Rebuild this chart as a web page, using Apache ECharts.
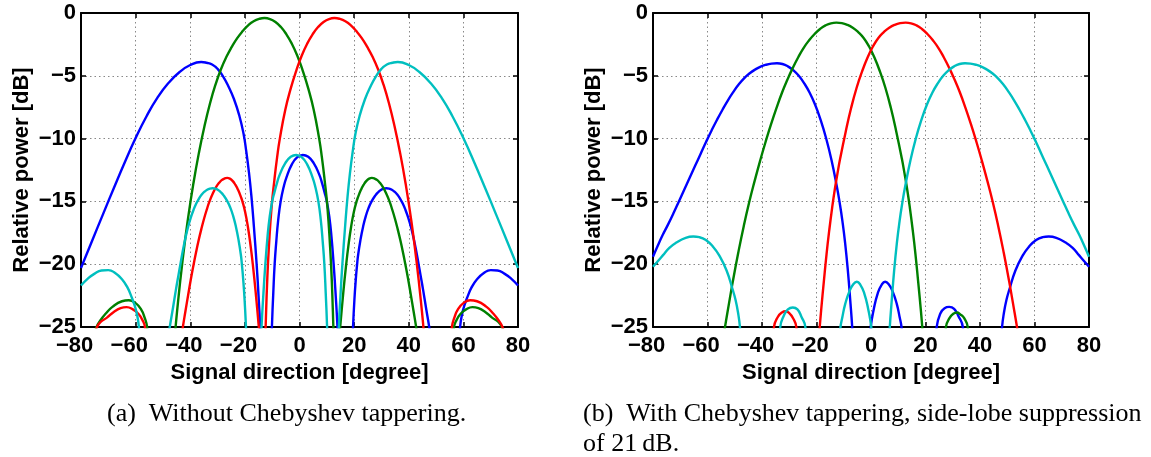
<!DOCTYPE html>
<html>
<head>
<meta charset="utf-8">
<script src="https://cdn.jsdelivr.net/npm/echarts@6/dist/echarts.min.js"></script>
<style>
  html, body { margin: 0; padding: 0; background: #fff; }
  #chart { width: 1151px; height: 457px; }
</style>
</head>
<body>
<div id="chart"></div>
<script>
// Beam patterns of a four-beam antenna array: relative power [dB] versus signal direction [degree].
// Every beam is stored as a list of lobes; each lobe is a list of [direction, power] points.
// The lobes of one beam are separated at the nulls, where the curve drops out of the plotted range.

const xTicks = [-80, -60, -40, -20, 0, 20, 40, 60, 80];
const yTicks = [-25, -20, -15, -10, -5, 0];

const beamNames = ['Beam 1', 'Beam 2', 'Beam 3', 'Beam 4'];
const beamColors = ['#0000ff', '#008000', '#ff0000', '#00bfbf'];

// ---- (a) without Chebyshev tapering ----
const aBlue = [
  [[-80,-20.3],[-76,-18.17],[-72,-16.05],[-68,-13.95],[-64,-11.9],[-60,-9.96],[-56,-8.22],[-52,-6.74],
   [-48,-5.58],[-44,-4.72],[-40,-4.14],[-36,-3.9],[-34,-3.96],[-32,-4.1],[-30,-4.45],[-28,-5.05],
   [-26,-5.85],[-24,-6.85],[-22,-8.2],[-20.5,-9.6],[-19.5,-11.0],[-18.5,-12.7],[-17.6,-14.6],
   [-16.7,-17.0],[-15.7,-20],[-15,-22.5],[-14.4,-25],[-13.8,-28]],
  [[-10.5,-28],[-10.1,-25],[-9.6,-22.3],[-9.1,-20],[-8.5,-18.2],[-7.8,-16.5],[-6.9,-15.0],[-5.8,-13.85],
   [-4.8,-13.1],[-2.8,-12.05],[-0.8,-11.48],[1.2,-11.3],[3.2,-11.45],[5.2,-11.95],[7.2,-12.85],
   [8.2,-13.5],[9.2,-14.3],[10,-15],[10.9,-16.2],[11.7,-17.8],[12.5,-20],[13.2,-22.3],[13.9,-25],[14.4,-28]],
  [[19.2,-27.25],[19.6,-25.0],[20.1,-22.85],[20.6,-21.25],[21.1,-20.0],[21.4,-19.37],[22.3,-18.09],
   [23.3,-16.99],[24.3,-16.15],[25.3,-15.52],[26.4,-15.0],[27.8,-14.52],[28.8,-14.27],[29.8,-14.09],
   [30.8,-13.985],[31.8,-13.95],[32.8,-13.98],[33.8,-14.07],[34.8,-14.23],[35.8,-14.46],[36.8,-14.77],
   [37.8,-15.17],[38.8,-15.68],[39.8,-16.29],[40.8,-17.04],[41.8,-17.95],[42.8,-19.02],[43.6,-20.0],
   [44.3,-20.85],[45.3,-22.1],[46.3,-23.45],[47.5,-25.0],[48.5,-26.45],[49.5,-28.2]],
  [[58,-27.5],[58.8,-25],[59.6,-23.9],[60.5,-23.2],[61.5,-22.6],[63,-21.85],[65,-21.2],[67.5,-20.7],
   [70,-20.47],[72.5,-20.5],[75,-20.75],[77.5,-21.15],[80,-21.7]]
];

const aGreen = [
  [[-76.5,-28],[-75.3,-25.8],[-74.3,-25],[-73,-24.5],[-71,-23.95],[-68.5,-23.4],[-65,-22.95],
   [-62.5,-22.87],[-60,-23.1],[-58,-23.6],[-56.8,-24.2],[-55.8,-25],[-55,-27.5]],
  [[-46.8,-28.6],[-45.8,-26.1],[-44.8,-23.69],[-42.8,-19.67],[-40.8,-16.33],[-38.8,-13.51],[-36.8,-11.1],
   [-34.8,-9.02],[-32.8,-7.23],[-30.8,-5.73],[-28.8,-4.5],[-26.8,-3.51],[-24.8,-2.7],[-22.8,-2.0],
   [-20.8,-1.44],[-18.8,-0.98],[-16.8,-0.66],[-14.8,-0.47],[-12.8,-0.4],[-10.8,-0.48],[-8.8,-0.72],
   [-6.8,-1.12],[-4.8,-1.7],[-2.8,-2.45],[-0.8,-3.4],[1.2,-4.6],[3.2,-6.0],[5.2,-7.7],[7.2,-10.0],
   [8.2,-11.5],[9.2,-13.3],[10.2,-15.4],[11.2,-18.6],[11.8,-21.2],[12.4,-25.0],[13.0,-29.4]],
  [[14.3,-26.6],[14.9,-25.0],[16.1,-22.1],[17.1,-20.0],[17.9,-18.54],[18.9,-17.02],[19.9,-15.84],
   [20.9,-15.0],[21.5,-14.62],[22.5,-14.08],[23.5,-13.67],[24.5,-13.37],[25.5,-13.19],[26.5,-13.13],
   [27.5,-13.18],[28.5,-13.31],[29.5,-13.54],[30.5,-13.85],[31.5,-14.26],[32.95,-15.0],[33.95,-15.65],
   [34.95,-16.38],[35.95,-17.21],[36.95,-18.12],[37.95,-19.13],[38.75,-20.0],[39.75,-21.16],
   [40.75,-22.43],[41.75,-23.73],[42.7,-25.0],[43.5,-26.2]],
  [[55.8,-27.5],[56.6,-25],[57.5,-24.45],[59,-23.95],[61,-23.6],[63.3,-23.42],[65.5,-23.5],[68,-23.8],
   [70.5,-24.25],[72.8,-24.6],[74.1,-25],[75,-25.7],[76,-27]]
];

const aRed = [
  [[-76,-27],[-75,-25.7],[-74.1,-25],[-72.8,-24.6],[-70.5,-24.25],[-68,-23.8],[-65.5,-23.5],[-63.3,-23.42],
   [-61,-23.6],[-59,-23.95],[-57.5,-24.45],[-56.6,-25],[-55.8,-27.5]],
  [[-43.5,-26.2],[-42.7,-25.0],[-41.75,-23.73],[-40.75,-22.43],[-39.75,-21.16],[-38.75,-20.0],
   [-37.95,-19.13],[-36.95,-18.12],[-35.95,-17.21],[-34.95,-16.38],[-33.95,-15.65],[-32.95,-15.0],
   [-31.5,-14.26],[-30.5,-13.85],[-29.5,-13.54],[-28.5,-13.31],[-27.5,-13.18],[-26.5,-13.13],
   [-25.5,-13.19],[-24.5,-13.37],[-23.5,-13.67],[-22.5,-14.08],[-21.5,-14.62],[-20.9,-15.0],
   [-19.9,-15.84],[-18.9,-17.02],[-17.9,-18.54],[-17.1,-20.0],[-16.1,-22.1],[-14.9,-25.0],[-14.3,-26.6]],
  [[-13.0,-29.4],[-12.4,-25.0],[-11.8,-21.2],[-11.2,-18.6],[-10.2,-15.4],[-9.2,-13.3],[-8.2,-11.5],
   [-7.2,-10.0],[-5.2,-7.7],[-3.2,-6.0],[-1.2,-4.6],[0.8,-3.4],[2.8,-2.45],[4.8,-1.7],[6.8,-1.12],
   [8.8,-0.72],[10.8,-0.48],[12.8,-0.4],[14.8,-0.47],[16.8,-0.66],[18.8,-0.98],[20.8,-1.44],[22.8,-2.0],
   [24.8,-2.7],[26.8,-3.51],[28.8,-4.5],[30.8,-5.73],[32.8,-7.23],[34.8,-9.02],[36.8,-11.1],[38.8,-13.51],
   [40.8,-16.33],[42.8,-19.67],[44.8,-23.69],[45.8,-26.1],[46.8,-28.6]],
  [[55,-27.5],[55.8,-25],[56.8,-24.2],[58,-23.6],[60,-23.1],[62.5,-22.87],[65,-22.95],[68.5,-23.4],
   [71,-23.95],[73,-24.5],[74.3,-25],[75.3,-25.8],[76.5,-28]]
];

const aCyan = [
  [[-80,-21.7],[-77.5,-21.15],[-75,-20.75],[-72.5,-20.5],[-70,-20.47],[-67.5,-20.7],[-65,-21.2],
   [-63,-21.85],[-61.5,-22.6],[-60.5,-23.2],[-59.6,-23.9],[-58.8,-25],[-58,-27.5]],
  [[-49.5,-28.2],[-48.5,-26.45],[-47.5,-25.0],[-46.3,-23.45],[-45.3,-22.1],[-44.3,-20.85],[-43.6,-20.0],
   [-42.8,-19.02],[-41.8,-17.95],[-40.8,-17.04],[-39.8,-16.29],[-38.8,-15.68],[-37.8,-15.17],
   [-36.8,-14.77],[-35.8,-14.46],[-34.8,-14.23],[-33.8,-14.07],[-32.8,-13.98],[-31.8,-13.95],
   [-30.8,-13.985],[-29.8,-14.09],[-28.8,-14.27],[-27.8,-14.52],[-26.4,-15.0],[-25.3,-15.52],
   [-24.3,-16.15],[-23.3,-16.99],[-22.3,-18.09],[-21.4,-19.37],[-21.1,-20.0],[-20.6,-21.25],
   [-20.1,-22.85],[-19.6,-25.0],[-19.2,-27.25]],
  [[-14.4,-28],[-13.9,-25],[-13.2,-22.3],[-12.5,-20],[-11.7,-17.8],[-10.9,-16.2],[-10,-15],[-9.2,-14.3],
   [-8.2,-13.5],[-7.2,-12.85],[-5.2,-11.95],[-3.2,-11.45],[-1.2,-11.3],[0.8,-11.48],[2.8,-12.05],
   [4.8,-13.1],[5.8,-13.85],[6.9,-15.0],[7.8,-16.5],[8.5,-18.2],[9.1,-20],[9.6,-22.3],[10.1,-25],[10.5,-28]],
  [[13.8,-28],[14.4,-25],[15,-22.5],[15.7,-20],[16.7,-17.0],[17.6,-14.6],[18.5,-12.7],[19.5,-11.0],
   [20.5,-9.6],[22,-8.2],[24,-6.85],[26,-5.85],[28,-5.05],[30,-4.45],[32,-4.1],[34,-3.96],[36,-3.9],
   [40,-4.14],[44,-4.72],[48,-5.58],[52,-6.74],[56,-8.22],[60,-9.96],[64,-11.9],[68,-13.95],[72,-16.05],
   [76,-18.17],[80,-20.3]]
];

// ---- (b) with Chebyshev tapering, 21 dB side-lobe suppression ----
const bBlue = [
  [[-80,-19.4],[-78.5,-18.65],[-76.5,-17.7],[-74.5,-16.85],[-72.5,-15.95],[-70.5,-15.0],[-68.5,-14.05],
   [-66.5,-13.1],[-64.5,-12.15],[-62.5,-11.2],[-60.5,-10.25],[-58.5,-9.35],[-56.5,-8.5],[-54.5,-7.7],
   [-52.5,-6.95],[-50.5,-6.28],[-48.5,-5.68],[-46.5,-5.18],[-44.5,-4.8],[-42.5,-4.5],[-40.5,-4.27],
   [-38.5,-4.12],[-36.5,-4.03],[-34.5,-4.0],[-32.5,-4.06],[-30.5,-4.25],[-28.5,-4.56],[-26.5,-5.0],
   [-24.5,-5.6],[-22.5,-6.35],[-20.5,-7.3],[-18.5,-8.5],[-16.5,-9.95],[-14.5,-11.7],[-12.5,-13.85],
   [-11.5,-15.1],[-10.5,-16.55],[-9.5,-18.3],[-8.5,-20.5],[-7.5,-23.2],[-6.9,-25.0],[-6.1,-28.0]],
  [[-0.8,-27],[-0.1,-25],[1,-23.6],[2.5,-22.3],[4,-21.6],[5.2,-21.4],[6.5,-21.6],[8,-22.2],[9.5,-23.2],
   [10.5,-24.2],[11.2,-25],[12,-27]],
  [[23.3,-28],[24.1,-25],[25.5,-23.9],[27,-23.5],[28.7,-23.4],[30.5,-23.55],[32,-24.1],[33.7,-25],
   [34.5,-28]],
  [[47.5,-27],[48.1,-25],[48.8,-23.85],[49.7,-22.85],[50.8,-22.0],[53,-20.5],[55.7,-19.3],[58,-18.6],
   [60.6,-18.07],[63,-17.85],[65.2,-17.8],[68,-17.9],[71.6,-18.3],[74,-18.7],[76.4,-19.3],[78,-19.7],
   [80,-20.2]]
];

const bGreen = [
  [[-54.7,-26.57],[-53.7,-25.17],[-52.7,-23.87],[-50.7,-21.37],[-48.7,-19.07],[-46.7,-16.97],
   [-44.7,-15.07],[-42.7,-13.37],[-40.7,-11.77],[-38.7,-10.27],[-36.7,-8.87],[-34.7,-7.57],[-32.7,-6.37],
   [-30.7,-5.32],[-28.7,-4.37],[-26.7,-3.52],[-24.7,-2.77],[-22.7,-2.17],[-20.7,-1.67],[-18.7,-1.27],
   [-16.7,-0.99],[-14.7,-0.82],[-12.7,-0.77],[-10.7,-0.81],[-8.7,-0.94],[-6.7,-1.17],[-4.7,-1.52],
   [-2.7,-1.99],[-0.7,-2.67],[1.3,-3.57],[3.3,-4.67],[5.3,-5.97],[7.3,-7.57],[9.3,-9.47],[11.3,-11.57],
   [12.3,-12.77],[13.3,-14.07],[14.3,-15.57],[15.3,-17.27],[16.3,-19.17],[17.3,-21.37],[18.3,-23.67],
   [18.8,-24.97],[19.5,-27.07]],
  [[26.8,-28],[27.5,-25],[28.8,-24.3],[30.2,-23.95],[31.5,-23.85],[32.8,-24.0],[34.2,-24.3],[35.5,-25],
   [36.2,-28]]
];

const bRed = [
  [[-36.3,-28],[-35.6,-25],[-34.2,-24.2],[-32.7,-23.85],[-31.3,-23.75],[-30,-23.9],[-28.6,-24.3],
   [-27.4,-25],[-26.7,-28]],
  [[-19.5,-27.07],[-18.8,-24.97],[-18.3,-23.67],[-17.3,-21.37],[-16.3,-19.17],[-15.3,-17.27],
   [-14.3,-15.57],[-13.3,-14.07],[-12.3,-12.77],[-11.3,-11.57],[-9.3,-9.47],[-7.3,-7.57],[-5.3,-5.97],
   [-3.3,-4.67],[-1.3,-3.57],[0.7,-2.67],[2.7,-1.99],[4.7,-1.52],[6.7,-1.17],[8.7,-0.94],[10.7,-0.81],
   [12.7,-0.77],[14.7,-0.82],[16.7,-0.99],[18.7,-1.27],[20.7,-1.67],[22.7,-2.17],[24.7,-2.77],
   [26.7,-3.52],[28.7,-4.37],[30.7,-5.32],[32.7,-6.37],[34.7,-7.57],[36.7,-8.87],[38.7,-10.27],
   [40.7,-11.77],[42.7,-13.37],[44.7,-15.07],[46.7,-16.97],[48.7,-19.07],[50.7,-21.37],[52.7,-23.87],
   [53.7,-25.17],[54.7,-26.57]]
];

const bCyan = [
  [[-80,-20.2],[-78,-19.7],[-76.4,-19.3],[-74,-18.7],[-71.6,-18.3],[-68,-17.9],[-65.2,-17.8],[-63,-17.85],
   [-60.6,-18.07],[-58,-18.6],[-55.7,-19.3],[-53,-20.5],[-50.8,-22.0],[-49.7,-22.85],[-48.8,-23.85],
   [-48.1,-25],[-47.5,-27]],
  [[-34,-28],[-33.3,-25],[-32,-24.1],[-30.5,-23.6],[-28.7,-23.45],[-27,-23.6],[-25.5,-24.2],[-24.1,-25],
   [-23.4,-28]],
  [[-12,-27],[-11.2,-25],[-10.5,-24.2],[-9.5,-23.2],[-8,-22.2],[-6.5,-21.6],[-5.2,-21.4],[-4,-21.6],
   [-2.5,-22.3],[-1,-23.6],[0.1,-25],[0.8,-27]],
  [[6.1,-28.0],[6.9,-25.0],[7.5,-23.2],[8.5,-20.5],[9.5,-18.3],[10.5,-16.55],[11.5,-15.1],[12.5,-13.85],
   [14.5,-11.7],[16.5,-9.95],[18.5,-8.5],[20.5,-7.3],[22.5,-6.35],[24.5,-5.6],[26.5,-5.0],[28.5,-4.56],
   [30.5,-4.25],[32.5,-4.06],[34.5,-4.0],[36.5,-4.03],[38.5,-4.12],[40.5,-4.27],[42.5,-4.5],[44.5,-4.8],
   [46.5,-5.18],[48.5,-5.68],[50.5,-6.28],[52.5,-6.95],[54.5,-7.7],[56.5,-8.5],[58.5,-9.35],[60.5,-10.25],
   [62.5,-11.2],[64.5,-12.15],[66.5,-13.1],[68.5,-14.05],[70.5,-15.0],[72.5,-15.95],[74.5,-16.85],
   [76.5,-17.7],[78.5,-18.65],[80,-19.4]]
];

const panelA = [aBlue, aGreen, aRed, aCyan];
const panelB = [bBlue, bGreen, bRed, bCyan];

const captionA = ['(a)\u2002Without Chebyshev tappering.'];
const captionB = ['(b)\u2002With Chebyshev tappering, side-lobe suppression', 'of 21\u2009dB.'];

const xTitle = 'Signal direction [degree]';
const yTitle = 'Relative power [dB]';

// join lobes into one line, with an empty point between lobes
function joinLobes(lobes) {
  const out = [];
  lobes.forEach((lobe, i) => {
    if (i > 0) out.push([lobe[0][0], '-']);
    lobe.forEach(p => out.push(p));
  });
  return out;
}

const FONT = '"Liberation Sans", Arial, Helvetica, sans-serif';
const MINUS = '\u2212';
const minus = v => String(v).replace('-', MINUS);
// x labels: the digits sit centred on the tick, the minus sign hangs to the left
const xLabel = v => v < 0 ? MINUS + Math.abs(v) + '{pad|' + MINUS + '}' : String(v);
const labelStyle = { color: '#000', fontFamily: FONT, fontWeight: 'bold', fontSize: 22 };
const titleStyle = { color: '#000', fontFamily: FONT, fontWeight: 'bold', fontSize: 22 };
const frame = { show: true, onZero: false, lineStyle: { color: '#000', width: 2 } };
const ticks = { show: true, inside: true, length: 5, lineStyle: { color: '#000', width: 1.5 } };
const dotted = { show: true, lineStyle: { color: '#888', width: 1, type: [1.5, 3] } };

const grids = [
  { left: 81, top: 13, width: 437, height: 314 },
  { left: 653, top: 13, width: 436, height: 314 }
];

const xAxes = [], yAxes = [], series = [];
grids.forEach((g, gi) => {
  const xRange = { min: xTicks[0], max: xTicks[xTicks.length - 1], interval: xTicks[1] - xTicks[0] };
  const yRange = { min: yTicks[0], max: yTicks[yTicks.length - 1], interval: yTicks[1] - yTicks[0] };
  xAxes.push(Object.assign({
    type: 'value', gridIndex: gi, position: 'bottom',
    axisLine: frame, axisTick: ticks, splitLine: dotted,
    axisLabel: Object.assign({
      margin: 8, formatter: xLabel,
      rich: { pad: Object.assign({}, labelStyle, { color: 'rgba(0,0,0,0)' }) }
    }, labelStyle),
    name: xTitle, nameLocation: 'middle', nameGap: 30, nameTextStyle: titleStyle
  }, xRange));
  xAxes.push(Object.assign({
    type: 'value', gridIndex: gi, position: 'top',
    axisLine: frame, axisTick: ticks, splitLine: { show: false }, axisLabel: { show: false }
  }, xRange));
  yAxes.push(Object.assign({
    type: 'value', gridIndex: gi, position: 'left',
    axisLine: frame, axisTick: ticks, splitLine: dotted,
    axisLabel: Object.assign({ margin: 5, formatter: minus }, labelStyle),
    name: yTitle, nameLocation: 'middle', nameGap: 48, nameRotate: 90, nameTextStyle: titleStyle
  }, yRange));
  yAxes.push(Object.assign({
    type: 'value', gridIndex: gi, position: 'right',
    axisLine: frame, axisTick: ticks, splitLine: { show: false }, axisLabel: { show: false }
  }, yRange));
});

[panelA, panelB].forEach((panel, gi) => {
  panel.forEach((lobes, k) => {
    series.push({
      type: 'line', name: beamNames[k],
      xAxisIndex: gi * 2, yAxisIndex: gi * 2,
      data: joinLobes(lobes),
      showSymbol: false, smooth: 0.5, connectNulls: false, clip: true,
      lineStyle: { color: beamColors[k], width: 2.4 },
      itemStyle: { color: beamColors[k] },
      silent: true, animation: false
    });
  });
});

const capFont = '26px "Liberation Serif", "Times New Roman", Times, serif';
const graphic = [
  { type: 'text', left: 107, top: 401, style: { text: captionA[0], font: capFont, fill: '#000' } },
  { type: 'text', left: 583, top: 401, style: { text: captionB[0], font: capFont, fill: '#000' } },
  { type: 'text', left: 583, top: 431, style: { text: captionB[1], font: capFont, fill: '#000' } }
];

const chart = echarts.init(document.getElementById('chart'), null, { renderer: 'canvas' });
chart.setOption({
  animation: false,
  backgroundColor: '#fff',
  grid: grids,
  xAxis: xAxes,
  yAxis: yAxes,
  series: series,
  graphic: graphic
});
</script>
</body>
</html>
